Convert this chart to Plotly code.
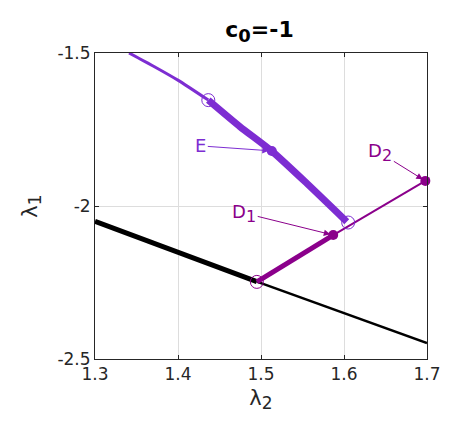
import plotly.graph_objects as go

# ── Data ──────────────────────────────────────────────────────────────────────
PURPLE  = "#7D2DD2"
MAGENTA = "#8B008B"

black_thick_x = [1.3, 1.495]
black_thick_y = [-2.050, -2.247]
black_thin_x  = [1.495, 1.7]
black_thin_y  = [-2.247, -2.448]

purple_thin_x  = [1.341, 1.370, 1.4003, 1.4365]
purple_thin_y  = [-1.500, -1.5425, -1.5895, -1.654]
purple_thick_x = [1.4365, 1.4747, 1.5129, 1.5551, 1.6033]
purple_thick_y = [-1.654, -1.7408, -1.8203, -1.9258, -2.0513]

magenta_thick_x = [1.495, 1.587]
magenta_thick_y = [-2.248, -2.095]
magenta_thin_x  = [1.587, 1.698]
magenta_thin_y  = [-2.095, -1.918]

ring_x      = [1.4365, 1.605, 1.495]
ring_y      = [-1.654, -2.054, -2.248]
ring_colors = [PURPLE, PURPLE, MAGENTA]

point_names  = ["E", "D", "D"]
point_subs   = ["", "1", "2"]
point_x      = [1.513, 1.587, 1.698]
point_y      = [-1.820, -2.095, -1.918]
point_colors = [PURPLE, MAGENTA, MAGENTA]
label_ax     = [-71, -89, -45]
label_ay     = [-5, -22, -28]

x_ticks = [1.3, 1.4, 1.5, 1.6, 1.7]
y_ticks = [-2.5, -2, -1.5]

FONT = "DejaVu Sans"
INK  = "#262626"


def sub(base, s, size):
    # MATLAB-style subscript: a bit larger than plotly's default
    if not s:
        return base
    return f'{base}<sub><span style="font-size:{size}px">{s}</span></sub>'


fig = go.Figure()


def add_line(x, y, color, width):
    fig.add_trace(go.Scatter(
        x=x, y=y, mode="lines",
        line=dict(color=color, width=width, shape="spline", smoothing=0.6),
        showlegend=False, hoverinfo="skip",
    ))


add_line(black_thick_x, black_thick_y, "black", 5)
add_line(black_thin_x, black_thin_y, "black", 2.5)
add_line(purple_thin_x, purple_thin_y, PURPLE, 3)
add_line(purple_thick_x, purple_thick_y, PURPLE, 7)
add_line(magenta_thick_x, magenta_thick_y, MAGENTA, 5)
add_line(magenta_thin_x, magenta_thin_y, MAGENTA, 2)

# open circles at the branch points
fig.add_trace(go.Scatter(
    x=ring_x, y=ring_y, mode="markers",
    marker=dict(symbol="circle-open", size=13, color=ring_colors, line=dict(width=1)),
    showlegend=False, hoverinfo="skip",
))

# filled points E, D1, D2
fig.add_trace(go.Scatter(
    x=point_x, y=point_y, mode="markers",
    marker=dict(symbol="circle", size=10, color=point_colors),
    showlegend=False, hoverinfo="skip", cliponaxis=False,
))

for name, s, px, py, col, ax, ay in zip(point_names, point_subs, point_x, point_y,
                                        point_colors, label_ax, label_ay):
    fig.add_annotation(
        x=px, y=py, text=sub(name, s, 16), ax=ax, ay=ay,
        showarrow=True, arrowhead=2, arrowsize=1.3, arrowwidth=1,
        arrowcolor=col, font=dict(family=FONT, size=18, color=col),
        standoff=3,
    )

axis_common = dict(
    showgrid=True, gridcolor="#DDDDDD", gridwidth=1,
    zeroline=False, showline=True, linecolor=INK, linewidth=1,
    mirror="ticks", ticks="inside", ticklen=4, tickcolor=INK,
    tickfont=dict(family=FONT, size=17, color=INK),
)

# page body adds 8px, so the figure is 8px smaller than the window
fig.update_layout(
    width=464, height=428,
    margin=dict(l=87, r=45, t=45, b=77),
    paper_bgcolor="white", plot_bgcolor="white",
    title=dict(
        text="<b>" + sub("c", "0", 18) + "=-1</b>",
        x=0.542, xanchor="center", y=0.95, yanchor="middle",
        font=dict(family=FONT, size=22, color="black"),
    ),
    xaxis=dict(
        range=[1.3, 1.7], tickvals=x_ticks, ticktext=[f"{v:g}" for v in x_ticks],
        title=dict(text=sub("λ", "2", 17), font=dict(family=FONT, size=21, color=INK), standoff=6),
        **axis_common,
    ),
    yaxis=dict(
        range=[-2.5, -1.5], tickvals=y_ticks, ticktext=[f"{v:g}" for v in y_ticks],
        title=dict(text=sub("λ", "1", 17), font=dict(family=FONT, size=21, color=INK), standoff=14),
        **axis_common,
    ),
)

fig.write_html("out.html")
